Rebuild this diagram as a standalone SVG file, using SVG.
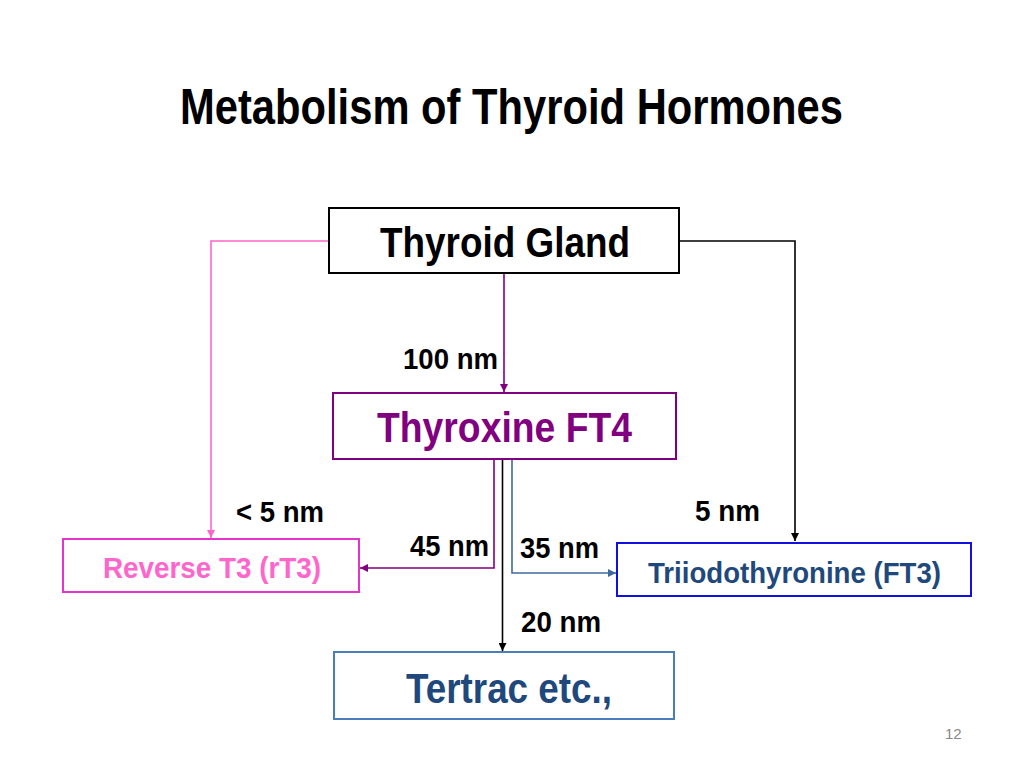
<svg xmlns="http://www.w3.org/2000/svg" width="1024" height="768" viewBox="0 0 1024 768">
<defs>
<style>
text{font-family:"Liberation Sans Narrow","Liberation Sans",Arial,sans-serif;font-weight:bold}
.lbl{font-size:29px;fill:#000}
.box{fill:#fff;stroke-width:2}
.conn{fill:none;stroke-width:1.6}
</style>
<marker id="aPurple" viewBox="0 0 10 10" refX="10" refY="5" markerWidth="8" markerHeight="8" markerUnits="userSpaceOnUse" orient="auto"><path d="M0,0 L10,5 L0,10 z" fill="#800080"/></marker>
<marker id="aPink" viewBox="0 0 10 10" refX="10" refY="5" markerWidth="8" markerHeight="8" markerUnits="userSpaceOnUse" orient="auto"><path d="M0,0 L10,5 L0,10 z" fill="#FF66CC"/></marker>
<marker id="aBlack" viewBox="0 0 10 10" refX="10" refY="5" markerWidth="8" markerHeight="8" markerUnits="userSpaceOnUse" orient="auto"><path d="M0,0 L10,5 L0,10 z" fill="#000"/></marker>
<marker id="aBlue" viewBox="0 0 10 10" refX="10" refY="5" markerWidth="8" markerHeight="8" markerUnits="userSpaceOnUse" orient="auto"><path d="M0,0 L10,5 L0,10 z" fill="#3F6A9F"/></marker>
</defs>
<rect width="1024" height="768" fill="#fff"/>
<text x="180" y="124" font-size="50" textLength="663" lengthAdjust="spacingAndGlyphs">Metabolism of Thyroid Hormones</text>

<g id="connectors">
<path class="conn" d="M504,274 V392" stroke="#800080" marker-end="url(#aPurple)"/>
<path class="conn" d="M329,241 H211 V538" stroke="#FF66CC" marker-end="url(#aPink)"/>
<path class="conn" d="M680,241 H795 V541" stroke="#000" marker-end="url(#aBlack)"/>
<path class="conn" d="M494,460 V568 H360" stroke="#800080" marker-end="url(#aPurple)"/>
<path class="conn" d="M502.5,460 V651" stroke="#000" marker-end="url(#aBlack)"/>
<path class="conn" d="M512,460 V573 H616" stroke="#3F6A9F" marker-end="url(#aBlue)"/>
</g>

<g id="thyroid-gland">
<rect class="box" x="329" y="208" width="350" height="65" stroke="#000"/>
<text x="380" y="257" font-size="43" textLength="250" lengthAdjust="spacingAndGlyphs">Thyroid Gland</text>
</g>
<g id="thyroxine">
<rect class="box" x="333" y="393" width="343" height="66" stroke="#800080"/>
<text x="377" y="442" font-size="43" fill="#800080" textLength="255" lengthAdjust="spacingAndGlyphs">Thyroxine FT4</text>
</g>
<g id="reverse-t3">
<rect class="box" x="63" y="539" width="296" height="53" stroke="#E633CC"/>
<text x="103" y="578" font-size="30" fill="#FF66CC" textLength="218" lengthAdjust="spacingAndGlyphs">Reverse T3 (rT3)</text>
</g>
<g id="ft3">
<rect class="box" x="617" y="543" width="354" height="53" stroke="#1010E0"/>
<text x="648" y="583" font-size="29" fill="#1F497D" textLength="293" lengthAdjust="spacingAndGlyphs">Triiodothyronine (FT3)</text>
</g>
<g id="tertrac">
<rect class="box" x="334" y="652" width="340" height="67" stroke="#4A7EBB"/>
<text x="406" y="703" font-size="43" fill="#1F497D" textLength="206" lengthAdjust="spacingAndGlyphs">Tertrac etc.,</text>
</g>

<g id="labels">
<text class="lbl" x="403" y="369" textLength="95" lengthAdjust="spacingAndGlyphs">100 nm</text>
<text class="lbl" x="236" y="522" textLength="88" lengthAdjust="spacingAndGlyphs">&lt; 5 nm</text>
<text class="lbl" x="410" y="556" textLength="79" lengthAdjust="spacingAndGlyphs">45 nm</text>
<text class="lbl" x="520" y="558" textLength="79" lengthAdjust="spacingAndGlyphs">35 nm</text>
<text class="lbl" x="521" y="632" textLength="80" lengthAdjust="spacingAndGlyphs">20 nm</text>
<text class="lbl" x="695" y="521" textLength="65" lengthAdjust="spacingAndGlyphs">5 nm</text>
</g>
<text x="945" y="739" font-size="15" fill="#888" style="font-family:'Liberation Sans',Arial,sans-serif;font-weight:normal">12</text>
</svg>
